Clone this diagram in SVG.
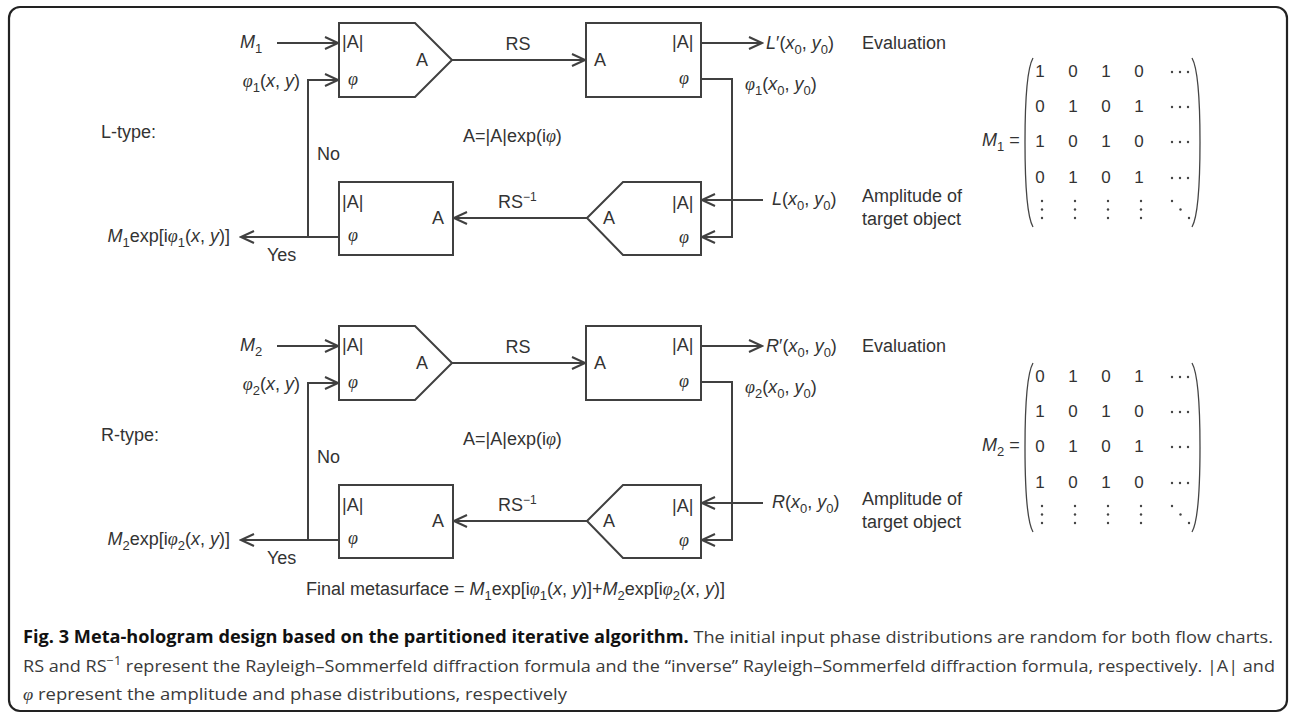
<svg xmlns="http://www.w3.org/2000/svg" width="1290" height="715" viewBox="0 0 1290 715">
<style>
.box{fill:#fff;stroke:#404040;stroke-width:2}
.ln{fill:none;stroke:#404040;stroke-width:2}
.t{font-family:"Liberation Sans",Arial,sans-serif;font-size:18px;fill:#333}
.it{font-style:italic}
.ph{font-family:"Liberation Serif","Times New Roman",serif;font-style:italic}
.sub{font-size:13px}
.m{font-family:"Liberation Sans",Arial,sans-serif;font-size:17px;fill:#333;text-anchor:middle}
.par{fill:none;stroke:#444;stroke-width:1.3}
.dot{fill:#444}
.cap{font-family:"Open Sans","Liberation Sans",sans-serif;font-size:17px;fill:#3a3a3a}
</style>
<defs>
<marker id="ah" markerUnits="userSpaceOnUse" markerWidth="16" markerHeight="14" refX="14" refY="7" orient="auto">
<path d="M1,1 L14,7 L1,13" fill="none" stroke="#404040" stroke-width="2"/>
</marker>
<g id="dots3"><circle class="dot" cx="0" cy="0" r="1.2"/><circle class="dot" cx="8" cy="0" r="1.2"/><circle class="dot" cx="16" cy="0" r="1.2"/></g>
<g id="vdots"><circle class="dot" cx="0" cy="0" r="1.2"/><circle class="dot" cx="0" cy="8.5" r="1.2"/><circle class="dot" cx="0" cy="17" r="1.2"/></g>
<g id="ddots"><circle class="dot" cx="0" cy="0" r="1.2"/><circle class="dot" cx="8.5" cy="8.5" r="1.2"/><circle class="dot" cx="17" cy="17" r="1.2"/></g>
</defs>
<rect x="9" y="7" width="1278" height="704" rx="11" fill="#fff" stroke="#222" stroke-width="2.2"/>

<!-- L-type flow chart -->
<g id="L-flow">
<g id="L-input-box"><path class="box" d="M339,23 H415 L452,60 L415,97 H339 Z"/><text class="t" x="342" y="48">|A|</text><text class="t ph" x="348" y="85">φ</text><text class="t" x="416" y="66">A</text></g>
<g id="L-forward-box"><rect class="box" x="586" y="23" width="115" height="74"/><text class="t" x="594" y="66">A</text><text class="t" x="672" y="48">|A|</text><text class="t ph" x="679" y="84">φ</text></g>
<g id="L-back-box"><rect class="box" x="339" y="182" width="114" height="73"/><text class="t" x="342" y="208">|A|</text><text class="t ph" x="348" y="241">φ</text><text class="t" x="432" y="224">A</text></g>
<g id="L-target-box"><path class="box" d="M587,218 L623,182 H701 V255 H623 Z"/><text class="t" x="603" y="224">A</text><text class="t" x="672" y="209">|A|</text><text class="t ph" x="679" y="243">φ</text></g>
<g id="L-connectors">
<path class="ln" d="M277,43 H338" marker-end="url(#ah)"/>
<path class="ln" d="M308,237 V80 H338" marker-end="url(#ah)"/>
<path class="ln" d="M339,237 H241" marker-end="url(#ah)"/>
<path class="ln" d="M452,60 H585" marker-end="url(#ah)"/>
<path class="ln" d="M701,43 H762" marker-end="url(#ah)"/>
<path class="ln" d="M701,79 H732 V237 H702" marker-end="url(#ah)"/>
<path class="ln" d="M763,200 H702" marker-end="url(#ah)"/>
<path class="ln" d="M587,218 H454" marker-end="url(#ah)"/>
</g>
<g id="L-labels">
<text class="t" x="101" y="138">L-type:</text>
<text class="t" x="240" y="48"><tspan class="it">M</tspan><tspan class="sub" dy="5">1</tspan></text>
<text class="t" x="300" y="87" text-anchor="end"><tspan class="ph">φ</tspan><tspan class="sub" dy="5">1</tspan><tspan dy="-5">(</tspan><tspan class="it">x</tspan>, <tspan class="it">y</tspan>)</text>
<text class="t" x="317" y="160">No</text>
<text class="t" x="267" y="261">Yes</text>
<text class="t" x="230" y="242" text-anchor="end"><tspan class="it">M</tspan><tspan class="sub" dy="5">1</tspan><tspan dy="-5">exp[i</tspan><tspan class="ph">φ</tspan><tspan class="sub" dy="5">1</tspan><tspan dy="-5">(</tspan><tspan class="it">x</tspan>, <tspan class="it">y</tspan>)]</text>
<text class="t" x="518" y="50" text-anchor="middle">RS</text>
<text class="t" x="498" y="208">RS<tspan font-size="12" dy="-7">−1</tspan></text>
<text class="t" x="463" y="142">A=|A|exp(i<tspan class="ph">φ</tspan>)</text>
<text class="t" x="766" y="49"><tspan class="it">L</tspan>′(<tspan class="it">x</tspan><tspan class="sub" dy="5">0</tspan><tspan dy="-5">, </tspan><tspan class="it">y</tspan><tspan class="sub" dy="5">0</tspan><tspan dy="-5">)</tspan></text>
<text class="t" x="745" y="90"><tspan class="ph">φ</tspan><tspan class="sub" dy="5">1</tspan><tspan dy="-5">(</tspan><tspan class="it">x</tspan><tspan class="sub" dy="5">0</tspan><tspan dy="-5">, </tspan><tspan class="it">y</tspan><tspan class="sub" dy="5">0</tspan><tspan dy="-5">)</tspan></text>
<text class="t" x="772" y="205"><tspan class="it">L</tspan>(<tspan class="it">x</tspan><tspan class="sub" dy="5">0</tspan><tspan dy="-5">, </tspan><tspan class="it">y</tspan><tspan class="sub" dy="5">0</tspan><tspan dy="-5">)</tspan></text>
<text class="t" x="862" y="49">Evaluation</text>
<text class="t" x="862" y="202">Amplitude of</text>
<text class="t" x="862" y="225">target object</text>
</g>
</g>

<g id="M1-matrix">
<text class="t" x="982" y="146"><tspan class="it">M</tspan><tspan class="sub" dy="5">1</tspan><tspan dy="-5"> =</tspan></text>
<path class="par" d="M1033,58 Q1025,72 1025,142 Q1025,213 1033,227"/>
<path class="par" d="M1192,58 Q1200,72 1200,142 Q1200,213 1192,227"/>
<text class="m" x="1040" y="77">1</text><text class="m" x="1073" y="77">0</text><text class="m" x="1106" y="77">1</text><text class="m" x="1139" y="77">0</text>
<text class="m" x="1040" y="112">0</text><text class="m" x="1073" y="112">1</text><text class="m" x="1106" y="112">0</text><text class="m" x="1139" y="112">1</text>
<text class="m" x="1040" y="147">1</text><text class="m" x="1073" y="147">0</text><text class="m" x="1106" y="147">1</text><text class="m" x="1139" y="147">0</text>
<text class="m" x="1040" y="183">0</text><text class="m" x="1073" y="183">1</text><text class="m" x="1106" y="183">0</text><text class="m" x="1139" y="183">1</text>
<use href="#dots3" x="1172" y="72"/><use href="#dots3" x="1172" y="107"/><use href="#dots3" x="1172" y="142"/><use href="#dots3" x="1172" y="178"/>
<use href="#vdots" x="1042" y="201"/><use href="#vdots" x="1075" y="201"/><use href="#vdots" x="1108" y="201"/><use href="#vdots" x="1141" y="201"/>
<use href="#ddots" x="1172" y="201"/>
</g>

<!-- R-type flow chart -->
<g id="R-flow" transform="translate(0,303)">
<g id="R-input-box"><path class="box" d="M339,23 H415 L452,60 L415,97 H339 Z"/><text class="t" x="342" y="48">|A|</text><text class="t ph" x="348" y="85">φ</text><text class="t" x="416" y="66">A</text></g>
<g id="R-forward-box"><rect class="box" x="586" y="23" width="115" height="74"/><text class="t" x="594" y="66">A</text><text class="t" x="672" y="48">|A|</text><text class="t ph" x="679" y="84">φ</text></g>
<g id="R-back-box"><rect class="box" x="339" y="182" width="114" height="73"/><text class="t" x="342" y="208">|A|</text><text class="t ph" x="348" y="241">φ</text><text class="t" x="432" y="224">A</text></g>
<g id="R-target-box"><path class="box" d="M587,218 L623,182 H701 V255 H623 Z"/><text class="t" x="603" y="224">A</text><text class="t" x="672" y="209">|A|</text><text class="t ph" x="679" y="243">φ</text></g>
<g id="R-connectors">
<path class="ln" d="M277,43 H338" marker-end="url(#ah)"/>
<path class="ln" d="M308,237 V80 H338" marker-end="url(#ah)"/>
<path class="ln" d="M339,237 H241" marker-end="url(#ah)"/>
<path class="ln" d="M452,60 H585" marker-end="url(#ah)"/>
<path class="ln" d="M701,43 H762" marker-end="url(#ah)"/>
<path class="ln" d="M701,79 H732 V237 H702" marker-end="url(#ah)"/>
<path class="ln" d="M763,200 H702" marker-end="url(#ah)"/>
<path class="ln" d="M587,218 H454" marker-end="url(#ah)"/>
</g>
<g id="R-labels">
<text class="t" x="101" y="138">R-type:</text>
<text class="t" x="240" y="48"><tspan class="it">M</tspan><tspan class="sub" dy="5">2</tspan></text>
<text class="t" x="300" y="87" text-anchor="end"><tspan class="ph">φ</tspan><tspan class="sub" dy="5">2</tspan><tspan dy="-5">(</tspan><tspan class="it">x</tspan>, <tspan class="it">y</tspan>)</text>
<text class="t" x="317" y="160">No</text>
<text class="t" x="267" y="261">Yes</text>
<text class="t" x="230" y="242" text-anchor="end"><tspan class="it">M</tspan><tspan class="sub" dy="5">2</tspan><tspan dy="-5">exp[i</tspan><tspan class="ph">φ</tspan><tspan class="sub" dy="5">2</tspan><tspan dy="-5">(</tspan><tspan class="it">x</tspan>, <tspan class="it">y</tspan>)]</text>
<text class="t" x="518" y="50" text-anchor="middle">RS</text>
<text class="t" x="498" y="208">RS<tspan font-size="12" dy="-7">−1</tspan></text>
<text class="t" x="463" y="142">A=|A|exp(i<tspan class="ph">φ</tspan>)</text>
<text class="t" x="766" y="49"><tspan class="it">R</tspan>′(<tspan class="it">x</tspan><tspan class="sub" dy="5">0</tspan><tspan dy="-5">, </tspan><tspan class="it">y</tspan><tspan class="sub" dy="5">0</tspan><tspan dy="-5">)</tspan></text>
<text class="t" x="745" y="90"><tspan class="ph">φ</tspan><tspan class="sub" dy="5">2</tspan><tspan dy="-5">(</tspan><tspan class="it">x</tspan><tspan class="sub" dy="5">0</tspan><tspan dy="-5">, </tspan><tspan class="it">y</tspan><tspan class="sub" dy="5">0</tspan><tspan dy="-5">)</tspan></text>
<text class="t" x="772" y="205"><tspan class="it">R</tspan>(<tspan class="it">x</tspan><tspan class="sub" dy="5">0</tspan><tspan dy="-5">, </tspan><tspan class="it">y</tspan><tspan class="sub" dy="5">0</tspan><tspan dy="-5">)</tspan></text>
<text class="t" x="862" y="49">Evaluation</text>
<text class="t" x="862" y="202">Amplitude of</text>
<text class="t" x="862" y="225">target object</text>
</g>
</g>

<g id="M2-matrix" transform="translate(0,305)">
<text class="t" x="982" y="146"><tspan class="it">M</tspan><tspan class="sub" dy="5">2</tspan><tspan dy="-5"> =</tspan></text>
<path class="par" d="M1033,58 Q1025,72 1025,142 Q1025,213 1033,227"/>
<path class="par" d="M1192,58 Q1200,72 1200,142 Q1200,213 1192,227"/>
<text class="m" x="1040" y="77">0</text><text class="m" x="1073" y="77">1</text><text class="m" x="1106" y="77">0</text><text class="m" x="1139" y="77">1</text>
<text class="m" x="1040" y="112">1</text><text class="m" x="1073" y="112">0</text><text class="m" x="1106" y="112">1</text><text class="m" x="1139" y="112">0</text>
<text class="m" x="1040" y="147">0</text><text class="m" x="1073" y="147">1</text><text class="m" x="1106" y="147">0</text><text class="m" x="1139" y="147">1</text>
<text class="m" x="1040" y="183">1</text><text class="m" x="1073" y="183">0</text><text class="m" x="1106" y="183">1</text><text class="m" x="1139" y="183">0</text>
<use href="#dots3" x="1172" y="72"/><use href="#dots3" x="1172" y="107"/><use href="#dots3" x="1172" y="142"/><use href="#dots3" x="1172" y="178"/>
<use href="#vdots" x="1042" y="201"/><use href="#vdots" x="1075" y="201"/><use href="#vdots" x="1108" y="201"/><use href="#vdots" x="1141" y="201"/>
<use href="#ddots" x="1172" y="201"/>
</g>

<text id="final" class="t" x="306" y="595">Final metasurface = <tspan class="it">M</tspan><tspan class="sub" dy="5">1</tspan><tspan dy="-5">exp[i</tspan><tspan class="ph">φ</tspan><tspan class="sub" dy="5">1</tspan><tspan dy="-5">(</tspan><tspan class="it">x</tspan>, <tspan class="it">y</tspan>)]+<tspan class="it">M</tspan><tspan class="sub" dy="5">2</tspan><tspan dy="-5">exp[i</tspan><tspan class="ph">φ</tspan><tspan class="sub" dy="5">2</tspan><tspan dy="-5">(</tspan><tspan class="it">x</tspan>, <tspan class="it">y</tspan>)]</text>

<g id="caption">
<text class="cap" x="23" y="643" textLength="1250" lengthAdjust="spacingAndGlyphs"><tspan font-weight="bold" fill="#111">Fig. 3 Meta-hologram design based on the partitioned iterative algorithm.</tspan> The initial input phase distributions are random for both flow charts.</text>
<text class="cap" x="23" y="672" textLength="1252" lengthAdjust="spacingAndGlyphs">RS and RS<tspan font-size="12" dy="-7">−1</tspan><tspan dy="7"> represent the Rayleigh–Sommerfeld diffraction formula and the “inverse” Rayleigh–Sommerfeld diffraction formula, respectively. |A| and</tspan></text>
<text class="cap" x="23" y="700" textLength="544" lengthAdjust="spacingAndGlyphs"><tspan class="ph">φ</tspan> represent the amplitude and phase distributions, respectively</text>
</g>
</svg>
